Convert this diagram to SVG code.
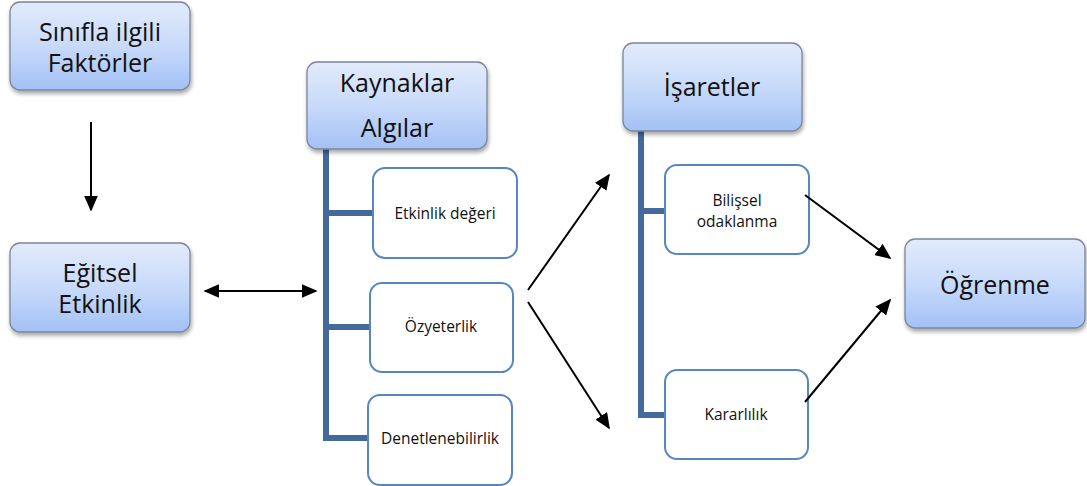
<svg xmlns="http://www.w3.org/2000/svg" width="1087" height="486" viewBox="0 0 1087 486">
<defs>
<linearGradient id="g" x1="0" y1="0" x2="0" y2="1">
<stop offset="0" stop-color="#e2ebfb"/>
<stop offset="0.5" stop-color="#c8dafa"/>
<stop offset="1" stop-color="#a3c1f6"/>
</linearGradient>
<filter id="sh" x="-10%" y="-10%" width="130%" height="140%">
<feGaussianBlur in="SourceAlpha" stdDeviation="2"/>
<feOffset dx="1" dy="3"/>
<feComponentTransfer><feFuncA type="linear" slope="0.35"/></feComponentTransfer>
<feMerge><feMergeNode/><feMergeNode in="SourceGraphic"/></feMerge>
</filter>
<marker id="ah" viewBox="0 0 10 10" refX="9" refY="5" markerWidth="8" markerHeight="7" orient="auto-start-reverse" markerUnits="strokeWidth" preserveAspectRatio="none">
<path d="M0,0 L10,5 L0,10 Z" fill="#000"/>
</marker>
</defs>
<style>
.big{fill:url(#g);stroke:#7b8698;stroke-width:1.3;filter:url(#sh)}
.sm{fill:#fff;stroke:#5a86bf;stroke-width:2}
.bar{stroke:#44699c;stroke-width:6;fill:none;stroke-linecap:square}
.con{stroke:#000;stroke-width:2;fill:none;marker-end:url(#ah)}
.t1{font-family:"Open Sans","Noto Sans",sans-serif;font-size:25px;fill:#111;text-anchor:middle}
.t2{font-family:"Open Sans","Noto Sans",sans-serif;font-size:15.5px;fill:#111;text-anchor:middle}
</style>
<rect width="1087" height="486" fill="#fff"/>
<g id="bars">
<path class="bar" d="M326,149 V438 H370 M326,213 H373 M326,327 H370"/>
<path class="bar" d="M641,131 V415 H665 M641,211 H665"/>
</g>
<g id="n1"><rect class="big" x="10" y="2" width="180" height="88" rx="10"/>
<text class="t1" x="100" y="41">Sınıfla ilgili</text><text class="t1" x="100" y="72">Faktörler</text></g>
<g id="n2"><rect class="big" x="10" y="243" width="180" height="89" rx="10"/>
<text class="t1" x="100" y="282">Eğitsel</text><text class="t1" x="100" y="313">Etkinlik</text></g>
<g id="n3"><rect class="big" x="307" y="62" width="180" height="87" rx="10"/>
<text class="t1" x="397" y="92">Kaynaklar</text><text class="t1" x="397" y="137">Algılar</text></g>
<g id="n4"><rect class="sm" x="373" y="168" width="144" height="90" rx="12"/>
<text class="t2" x="445" y="219">Etkinlik değeri</text></g>
<g id="n5"><rect class="sm" x="370" y="283" width="143" height="89" rx="12"/>
<text class="t2" x="441" y="332">Özyeterlik</text></g>
<g id="n6"><rect class="sm" x="368" y="395" width="144" height="90" rx="12"/>
<text class="t2" x="440" y="444">Denetlenebilirlik</text></g>
<g id="n7"><rect class="big" x="623" y="43" width="179" height="88" rx="10"/>
<text class="t1" x="712" y="96">İşaretler</text></g>
<g id="n8"><rect class="sm" x="665" y="165" width="144" height="89" rx="12"/>
<text class="t2" x="737" y="206">Bilişsel</text><text class="t2" x="737" y="227">odaklanma</text></g>
<g id="n9"><rect class="sm" x="665" y="370" width="143" height="89" rx="12"/>
<text class="t2" x="736" y="420">Kararlılık</text></g>
<g id="n10"><rect class="big" x="905" y="239" width="180" height="89" rx="10"/>
<text class="t1" x="995" y="294">Öğrenme</text></g>
<g id="connectors">
<line class="con" x1="91" y1="122" x2="91" y2="210"/>
<line class="con" x1="205" y1="291" x2="316" y2="291" style="marker-start:url(#ah)"/>
<line class="con" x1="528" y1="290" x2="609" y2="175"/>
<line class="con" x1="528" y1="302" x2="609" y2="428"/>
<line class="con" x1="805" y1="195" x2="890" y2="258"/>
<line class="con" x1="805" y1="402" x2="890" y2="300"/>
</g>
</svg>
